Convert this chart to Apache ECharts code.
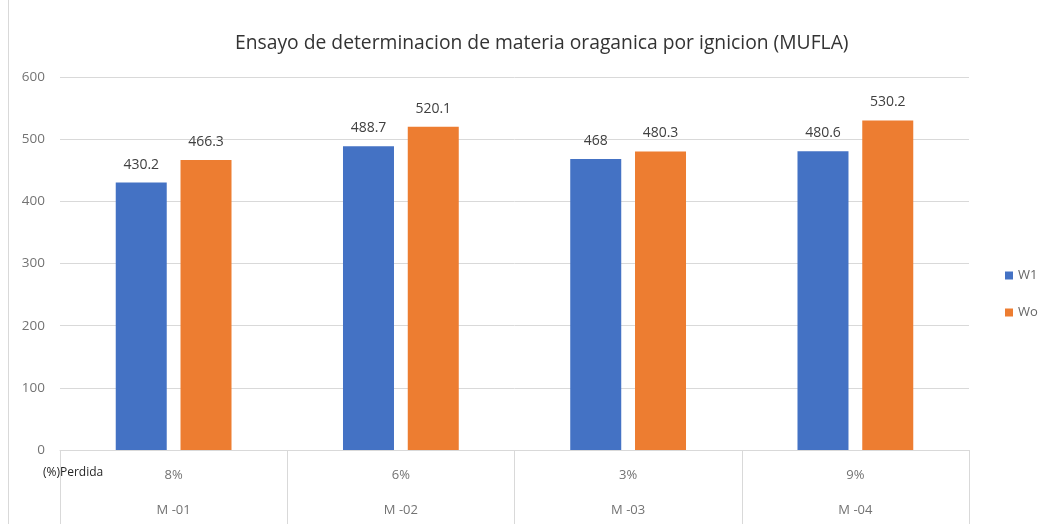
<!DOCTYPE html>
<html>
<head>
<meta charset="utf-8">
<script src="https://cdn.jsdelivr.net/npm/echarts@6/dist/echarts.min.js"></script>
<style>
  html, body { margin: 0; padding: 0; background: #fff; }
  #chart { width: 1049px; height: 524px; }
</style>
</head>
<body>
<div id="chart"></div>
<script>
// datos
var categorias = ["M -01", "M -02", "M -03", "M -04"];
var perdida = ["8%", "6%", "3%", "9%"];
var w1 = [430.2, 488.7, 468, 480.6];
var wo = [466.3, 520.1, 480.3, 530.2];

var chart = echarts.init(document.getElementById("chart"));
chart.setOption({
  textStyle: { fontFamily: "Open Sans" },
  title: {
    text: "Ensayo de determinacion de materia oraganica por ignicion (MUFLA)",
    left: 230,
    top: 29,
    textStyle: { fontSize: 19.3, fontWeight: "normal", color: "#333333", fontFamily: "Open Sans" }
  },
  legend: {
    orient: "vertical",
    left: 1000,
    top: 264,
    itemWidth: 8,
    itemHeight: 8,
    itemGap: 24,
    icon: "rect",
    textStyle: { color: "#666666", fontSize: 13 },
    data: ["W1", "Wo"]
  },
  grid: { left: 60, right: 80, top: 77, bottom: 74 },
  xAxis: {
    type: "category",
    data: categorias,
    axisLine: { lineStyle: { color: "#d9d9d9" } },
    axisTick: { show: true, length: 74, alignWithLabel: false, lineStyle: { color: "#d9d9d9" } },
    axisLabel: {
      interval: 0,
      margin: 8,
      formatter: function (v, i) { return "{p|" + perdida[i] + "}\n{c|" + v + "}"; },
      rich: {
        p: { fontSize: 13, color: "#737373", lineHeight: 35 },
        c: { fontSize: 13, color: "#737373", lineHeight: 35 }
      }
    }
  },
  yAxis: {
    type: "value",
    min: 0,
    max: 600,
    interval: 100,
    axisLine: { show: false },
    axisTick: { show: false },
    axisLabel: { color: "#737373", fontSize: 13.5, margin: 15 },
    splitLine: { lineStyle: { color: "#d9d9d9" } }
  },
  series: [
    {
      name: "W1",
      type: "bar",
      data: w1,
      barWidth: 51,
      barGap: "27%",
      itemStyle: { color: "#4472c4" },
      label: { show: true, position: "top", color: "#404040", fontSize: 14, distance: 11 }
    },
    {
      name: "Wo",
      type: "bar",
      data: wo,
      barWidth: 51,
      itemStyle: { color: "#ed7d31" },
      label: { show: true, position: "top", color: "#404040", fontSize: 14, distance: 11 }
    }
  ],
  graphic: [
    {
      type: "line",
      shape: { x1: 8.5, y1: 0, x2: 8.5, y2: 524 },
      style: { stroke: "#d9d9d9", lineWidth: 1 }
    },
    {
      type: "text",
      left: 43,
      top: 467,
      style: { text: "(%)Perdida", fontSize: 12, fill: "#262626", fontFamily: "Open Sans" }
    }
  ]
});
</script>
</body>
</html>
